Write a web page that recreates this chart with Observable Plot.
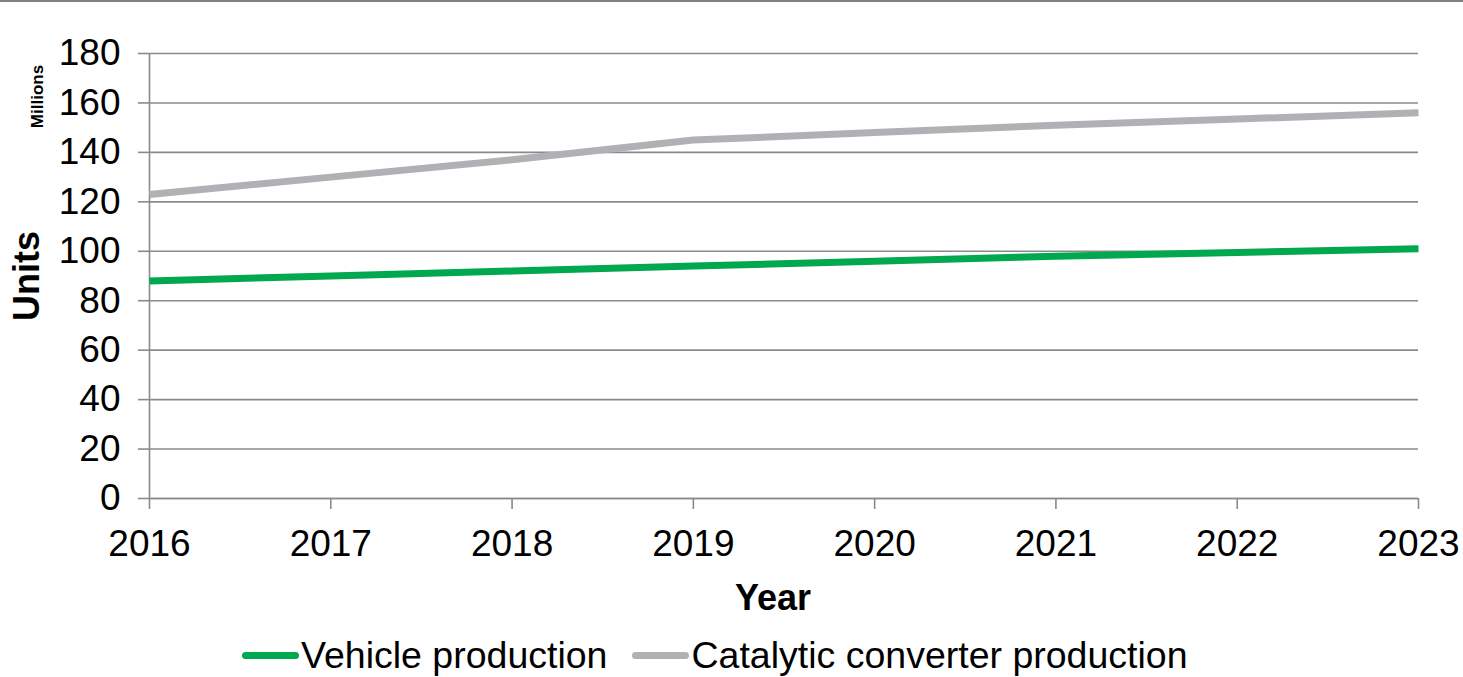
<!DOCTYPE html>
<html>
<head>
<meta charset="utf-8">
<script src="https://cdn.jsdelivr.net/npm/d3@7"></script>
<script src="https://cdn.jsdelivr.net/npm/@observablehq/plot@0.6"></script>
<style>
  html, body { margin: 0; padding: 0; background: #fff; }
  body { width: 1463px; height: 677px; overflow: hidden; font-family: "Liberation Sans", Arial, sans-serif; }
  #top-rule { height: 2px; background: #808080; }
  #chart svg { display: block; }
  #legend { height: 50px; padding-top: 6px; box-sizing: border-box; display: flex; align-items: center; padding-left: 242px; font-size: 37.5px; color: #000; }
  #legend .item { display: flex; align-items: center; }
  #legend .swatch { width: 57px; height: 7px; border-radius: 3.5px; margin-right: 2px; }
  #legend .item + .item { margin-left: 25px; }
</style>
</head>
<body>
<div id="top-rule"></div>
<div id="chart"></div>
<div id="legend"></div>
<script>
// Annual production, millions of units
const years = [2016, 2017, 2018, 2019, 2020, 2021, 2022, 2023];
const vehicleProduction = [88, 90, 92, 94, 96, 98, 99.5, 101];
const converterProduction = [123, 130, 137, 145, 148, 151, 153.5, 156];
const yTicks = [0, 20, 40, 60, 80, 100, 120, 140, 160, 180];

const seriesNames = ["Vehicle production", "Catalytic converter production"];
const seriesColors = ["#00A84F", "#B0B1B5"];

const rows = [
  ...years.map((year, i) => ({year, value: vehicleProduction[i], series: seriesNames[0]})),
  ...years.map((year, i) => ({year, value: converterProduction[i], series: seriesNames[1]}))
];

const axisColor = "#8a8a8a";
const font = "Liberation Sans, Arial, sans-serif";

const chart = Plot.plot({
  width: 1463,
  height: 625,
  marginLeft: 149,
  marginRight: 45,
  marginTop: 51,
  marginBottom: 129,
  style: {fontFamily: font, color: "#000", background: "#fff"},
  x: {type: "linear", domain: [years[0], years[years.length - 1]]},
  y: {domain: [0, 180]},
  color: {domain: seriesNames, range: seriesColors},
  marks: [
    Plot.gridY(yTicks, {stroke: axisColor, strokeOpacity: 1, strokeWidth: 1.6}),
    Plot.axisY(yTicks, {tickSize: 11, tickPadding: 18, fontSize: 37, stroke: axisColor, strokeWidth: 1.6, label: null}),
    Plot.axisX(years, {tickSize: 11, tickPadding: 20, fontSize: 37, stroke: axisColor, strokeWidth: 1.6, tickFormat: d => String(d), label: null}),
    Plot.ruleX([years[0]], {stroke: axisColor, strokeWidth: 1.6}),
    Plot.ruleY([0], {stroke: axisColor, strokeWidth: 1.6}),
    Plot.line(rows, {x: "year", y: "value", z: "series", stroke: "series", strokeWidth: 7, strokeLinecap: "butt", strokeLinejoin: "round"}),
    Plot.text(["Units"], {frameAnchor: "left", dx: -122, rotate: -90, fontSize: 36, fontWeight: "bold", textAnchor: "middle", lineAnchor: "middle"}),
    Plot.text(["Millions"], {frameAnchor: "top-left", dx: -112, dy: 43, rotate: -90, fontSize: 17, fontWeight: "bold", textAnchor: "middle", lineAnchor: "middle"}),
    Plot.text(["Year"], {frameAnchor: "bottom", dx: -11, dy: 100, fontSize: 36, fontWeight: "bold", textAnchor: "middle", lineAnchor: "middle"})
  ]
});
document.getElementById("chart").appendChild(chart);

// Legend below the plot
const legend = document.getElementById("legend");
seriesNames.forEach((name, i) => {
  const item = document.createElement("div");
  item.className = "item";
  const sw = document.createElement("span");
  sw.className = "swatch";
  sw.style.background = seriesColors[i];
  const label = document.createElement("span");
  label.textContent = name;
  item.appendChild(sw);
  item.appendChild(label);
  legend.appendChild(item);
});
</script>
</body>
</html>
